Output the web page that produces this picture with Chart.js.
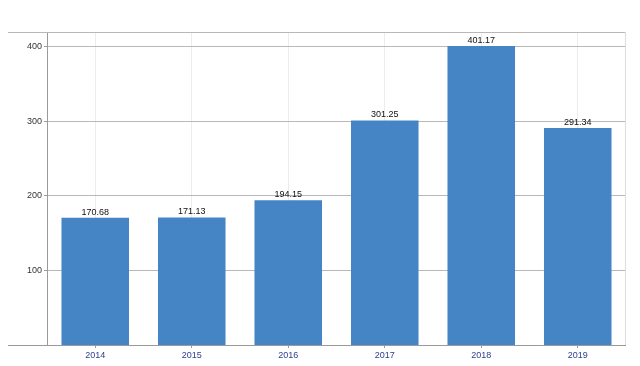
<!DOCTYPE html>
<html>
<head>
<meta charset="utf-8">
<script src="https://cdn.jsdelivr.net/npm/chart.js@4"></script>
<style>
  html, body { margin: 0; padding: 0; background: #fff; }
  #wrap { width: 640px; height: 366px; }
</style>
</head>
<body>
<div id="wrap"><canvas id="barChart"></canvas></div>
<script>
const years = ["2014", "2015", "2016", "2017", "2018", "2019"];
const values = [170.68, 171.13, 194.15, 301.25, 401.17, 291.34];
const yTicks = [100, 200, 300, 400];
const barColor = "#4585c6";

// frame lines + value labels
const extras = {
  id: 'extras',
  beforeDatasetsDraw(chart) {
    const { ctx, chartArea: a } = chart;
    ctx.save();
    ctx.strokeStyle = '#b8b8b8';
    ctx.lineWidth = 1;
    ctx.beginPath();
    ctx.moveTo(8, a.top + 0.5); ctx.lineTo(a.right, a.top + 0.5);
    ctx.stroke();
    ctx.strokeStyle = '#dcdcdc';
    ctx.beginPath();
    ctx.moveTo(a.right - 0.5, a.top); ctx.lineTo(a.right - 0.5, a.bottom);
    ctx.stroke();
    ctx.restore();
  },
  afterDatasetsDraw(chart) {
    const { ctx, chartArea: a } = chart;
    ctx.save();
    ctx.strokeStyle = '#9a9a9a';
    ctx.beginPath();
    ctx.moveTo(8, a.bottom + 0.5); ctx.lineTo(a.right, a.bottom + 0.5);
    ctx.stroke();
    ctx.fillStyle = '#111';
    ctx.font = '9px "Liberation Sans", Arial, sans-serif';
    ctx.textAlign = 'center';
    ctx.textBaseline = 'bottom';
    chart.getDatasetMeta(0).data.forEach((bar, i) => {
      ctx.fillText(values[i].toFixed(2), bar.x, bar.y - 1);
    });
    ctx.restore();
  }
};

const config = {
  type: 'bar',
  data: {
    labels: years,
    datasets: [{
      data: values,
      backgroundColor: barColor,
      barPercentage: 0.7,
      categoryPercentage: 1.0
    }]
  },
  options: {
    responsive: true,
    maintainAspectRatio: false,
    animation: false,
    layout: { padding: { top: 32, right: 14, left: 0, bottom: 0 } },
    plugins: { legend: { display: false }, tooltip: { enabled: false } },
    scales: {
      x: {
        grid: { color: '#ececec', offset: false, drawTicks: true, tickLength: 3, tickColor: '#9a9a9a' },
        border: { display: false },
        ticks: { color: '#2c3f8c', font: { size: 9, family: '"Liberation Sans", Arial, sans-serif' }, padding: 2 },
        afterFit(s) { s.height = 21; }
      },
      y: {
        min: 0,
        max: 420,
        afterBuildTicks(s) { s.ticks = yTicks.map(v => ({ value: v })); },
        grid: { color: '#b8b8b8', tickLength: 3, tickColor: '#9a9a9a' },
        border: { display: true, color: '#9a9a9a' },
        ticks: { color: '#333', font: { size: 9, family: '"Liberation Sans", Arial, sans-serif' }, padding: 2 },
        afterFit(s) { s.width = 47; }
      },
      yMinor: {
        position: 'left',
        min: 0,
        max: 420,
        afterBuildTicks(s) {
          const t = [];
          for (let v = 25; v < 420; v += 25) if (v % 100 !== 0) t.push({ value: v });
          s.ticks = t;
        },
        grid: { drawOnChartArea: false, tickLength: 2, tickColor: '#bbbbbb' },
        border: { display: false },
        ticks: { display: false },
        afterFit(s) { s.width = 0; }
      }
    }
  },
  plugins: [extras]
};

const barChartObject = new Chart(document.getElementById('barChart'), config);
</script>
</body>
</html>
